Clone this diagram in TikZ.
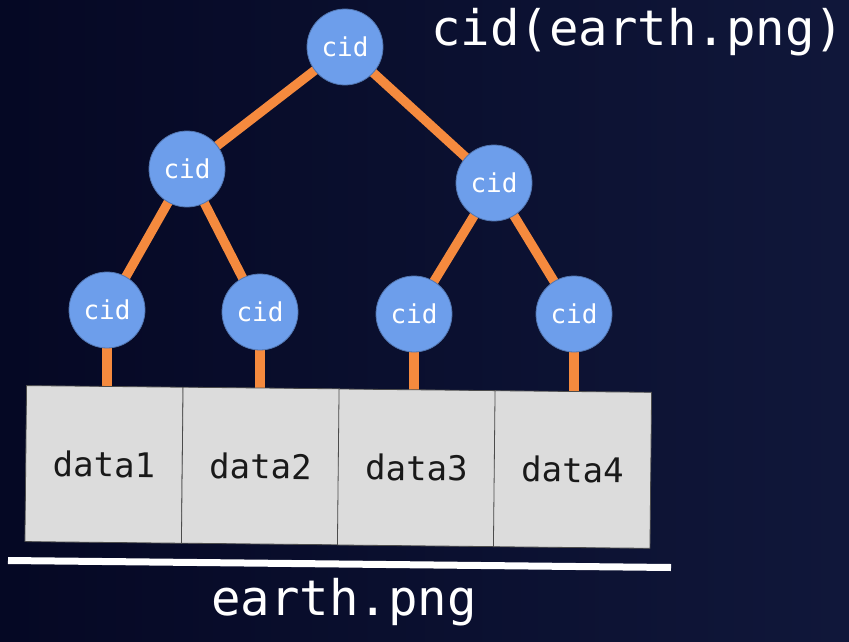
\documentclass[tikz,border=0pt]{standalone}
\usepackage{fontspec}
\newfontfamily\monofam{DejaVu Sans Mono}
\definecolor{bgA}{HTML}{050824}
\definecolor{bgB}{HTML}{10173A}
\definecolor{cidblue}{HTML}{6D9EEB}
\definecolor{edgeor}{HTML}{F58A3E}
\definecolor{boxgray}{HTML}{DCDCDC}
\pgfdeclarelayer{bg}
\pgfdeclarelayer{edges}
\pgfsetlayers{bg,edges,main}
\begin{document}
\begin{tikzpicture}[x=0.75pt,y=-0.75pt,
  cidnode/.style={circle, fill=cidblue, draw=cidblue!75!black, line width=0.6pt,
    minimum size=57pt, inner sep=0pt, text=white,
    font=\monofam\fontsize{19.5}{19.5}\selectfont},
  datanode/.style={rectangle, fill=boxgray, draw=black!70, line width=0.6pt,
    minimum width=117.4pt, minimum height=117pt, inner sep=0pt, rotate=-0.6,
    text=black!90, font=\monofam\fontsize{25.5}{25.5}\selectfont},
  edge/.style={draw=edgeor, line width=7pt},
  bigtext/.style={text=white, inner sep=0pt, font=\monofam\fontsize{36.75}{36.75}\selectfont}]
\useasboundingbox (0,0) rectangle (849,642);
\begin{pgfonlayer}{bg}
  \fill[left color=bgA, right color=bgB] (0,0) rectangle (849,642);
\end{pgfonlayer}
% tree nodes
\node[cidnode] (root) at (345,47) {cid};
\node[cidnode] (l2a) at (187,169) {cid};
\node[cidnode] (l2b) at (494,183) {cid};
\node[cidnode] (leaf1) at (107,310) {cid};
\node[cidnode] (leaf2) at (260,312) {cid};
\node[cidnode] (leaf3) at (414,314) {cid};
\node[cidnode] (leaf4) at (574,314) {cid};
% data boxes
\node[datanode] (box1) at (104,464.4) {data1};
\node[datanode] (box2) at (260.5,466) {data2};
\node[datanode] (box3) at (416.5,467.8) {data3};
\node[datanode] (box4) at (572.5,469.5) {data4};
% texts
\node[bigtext, anchor=base west] (title) at (431,46) {cid(earth.png)};
\node[bigtext, anchor=base] (fname) at (344,615) {earth.png};
% underline
\draw[white, line width=5.25pt] (8,560.5) -- (671,567.5);
% edges
\begin{pgfonlayer}{edges}
  \draw[edge] (root.center) -- (l2a.center);
  \draw[edge] (root.center) -- (l2b.center);
  \draw[edge] (l2a.center) -- (leaf1.center);
  \draw[edge] (l2a.center) -- (leaf2.center);
  \draw[edge] (l2b.center) -- (leaf3.center);
  \draw[edge] (l2b.center) -- (leaf4.center);
  \draw[edge] (leaf1.center) -- (leaf1.center |- box1.center);
  \draw[edge] (leaf2.center) -- (leaf2.center |- box2.center);
  \draw[edge] (leaf3.center) -- (leaf3.center |- box3.center);
  \draw[edge] (leaf4.center) -- (leaf4.center |- box4.center);
\end{pgfonlayer}
\end{tikzpicture}
\end{document}
